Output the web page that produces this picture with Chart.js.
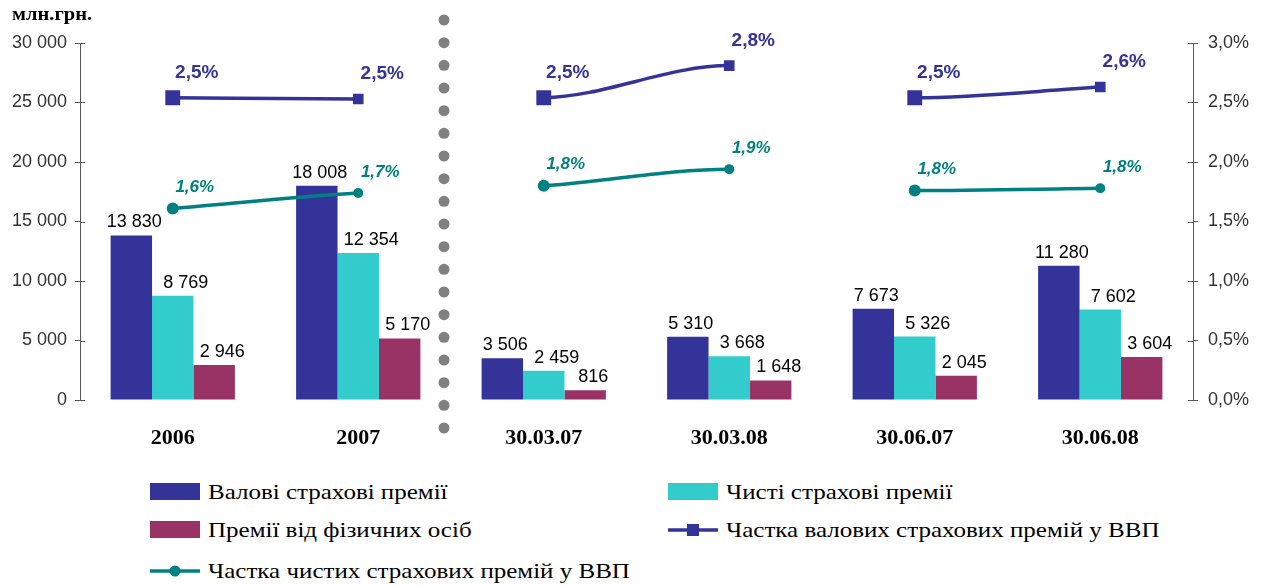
<!DOCTYPE html>
<html>
<head>
<meta charset="utf-8">
<script src="https://cdn.jsdelivr.net/npm/chart.js@4"></script>
<style>
  html, body { margin: 0; padding: 0; background: #fff; }
  #wrap { position: relative; width: 1268px; height: 585px; }
  #chart { position: absolute; left: 0; top: 0; }
  #unit { position: absolute; left: 12px; top: 4px; font: bold 18px "Liberation Serif", serif; color: #000; transform: scaleX(1.14); transform-origin: left center; }
  .leg { position: absolute; display: flex; align-items: center; font: 21px "Liberation Serif", serif; color: #000; white-space: nowrap; }
  .leg canvas { margin-right: 6px; }
  .leg span { display: inline-block; transform: scaleX(1.19); transform-origin: left center; }
</style>
</head>
<body>
<div id="wrap">
  <canvas id="chart" width="1268" height="460"></canvas>
  <div id="unit">млн.грн.</div>
  <div id="legend"></div>
</div>
<script>
const CATEGORIES = ["2006", "2007", "30.03.07", "30.03.08", "30.06.07", "30.06.08"];
const PERIOD_GROUP = [0, 0, 1, 1, 2, 2];
const GROSS_PREMIUMS = [13830, 18008, 3506, 5310, 7673, 11280];
const NET_PREMIUMS = [8769, 12354, 2459, 3668, 5326, 7602];
const PERSONAL_PREMIUMS = [2946, 5170, 816, 1648, 2045, 3604];
const GROSS_GDP_SHARE = [2.54, 2.53, 2.54, 2.81, 2.54, 2.63];
const NET_GDP_SHARE = [1.61, 1.74, 1.80, 1.94, 1.76, 1.78];
const LEFT_AXIS = { max: 30000, step: 5000 };
const RIGHT_AXIS = { max: 3, step: 0.5 };

const COLORS = { gross: "#333399", net: "#33CCCC", personal: "#993366", grossLine: "#333399", netLine: "#008080", axis: "#595959", tick: "#333333" };
const SANS = "'Liberation Sans', Arial, sans-serif";
const SERIF = "'Liberation Serif', 'Times New Roman', serif";

const fmtThousands = (v) => String(v).replace(/\B(?=(\d{3})+(?!\d))/g, " ");
const fmtPct = (v) => v.toFixed(1).replace(".", ",") + "%";

// hide the connecting segment between different reporting periods
const gapSegment = (ctx) => PERIOD_GROUP[ctx.p0DataIndex] !== PERIOD_GROUP[ctx.p1DataIndex] ? "transparent" : undefined;

const labelsPlugin = {
  id: "valueLabels",
  afterDatasetsDraw(chart) {
    const ctx = chart.ctx;
    ctx.save();
    ctx.textAlign = "center";
    ctx.textBaseline = "middle";
    chart.data.datasets.forEach((ds, i) => {
      const meta = chart.getDatasetMeta(i);
      meta.data.forEach((el, j) => {
        const v = ds.data[j];
        if (ds.type === "bar") {
          ctx.font = "18px " + SANS;
          ctx.fillStyle = "#000";
          ctx.fillText(fmtThousands(v), el.x + ds.labelDx, el.y - 13);
        } else {
          ctx.font = ds.labelFont;
          ctx.fillStyle = ds.borderColor;
          ctx.fillText(fmtPct(v), el.x + ds.labelDx, el.y + ds.labelDy);
        }
      });
    });
    ctx.restore();
  }
};

const decorPlugin = {
  id: "decor",
  afterDraw(chart) {
    const ctx = chart.ctx;
    const area = chart.chartArea;
    const x = chart.scales.x;
    ctx.save();
    // inner halves of the axis tick marks
    ctx.strokeStyle = COLORS.axis;
    ctx.lineWidth = 1;
    ["y", "y1"].forEach((id) => {
      const s = chart.scales[id];
      const ax = id === "y" ? area.left : area.right;
      const dir = id === "y" ? 1 : -1;
      s.ticks.forEach((t) => {
        const py = Math.round(s.getPixelForValue(t.value)) + 0.5;
        ctx.beginPath();
        ctx.moveTo(ax, py);
        ctx.lineTo(ax + dir * 5, py);
        ctx.stroke();
      });
    });
    // dotted separator between annual and quarterly data
    const sx = (x.getPixelForValue(1) + x.getPixelForValue(2)) / 2 - 7;
    ctx.fillStyle = "#808080";
    const top = area.top - 23, bottom = area.bottom + 28, n = 19;
    for (let k = 0; k < n; k++) {
      ctx.beginPath();
      ctx.arc(sx, top + (bottom - top) * k / (n - 1), 5.5, 0, Math.PI * 2);
      ctx.fill();
    }
    ctx.restore();
  }
};

const chart = new Chart(document.getElementById("chart"), {
  data: {
    labels: CATEGORIES,
    datasets: [
      { type: "bar", label: "Валові страхові премії", data: GROSS_PREMIUMS, backgroundColor: COLORS.gross, yAxisID: "y", order: 1, labelDx: 3 },
      { type: "bar", label: "Чисті страхові премії", data: NET_PREMIUMS, backgroundColor: COLORS.net, yAxisID: "y", order: 1, labelDx: 13 },
      { type: "bar", label: "Премії від фізичних осіб", data: PERSONAL_PREMIUMS, backgroundColor: COLORS.personal, yAxisID: "y", order: 1, labelDx: 8 },
      { type: "line", label: "Частка валових страхових премій у ВВП", data: GROSS_GDP_SHARE, borderColor: COLORS.grossLine,
        backgroundColor: COLORS.grossLine, borderWidth: 3.5, cubicInterpolationMode: "monotone", pointStyle: "rect",
        pointRadius: [10.5, 7.5, 10.5, 7.5, 10.5, 7.5], pointBorderWidth: 0, yAxisID: "y1", order: 0,
        segment: { borderColor: gapSegment }, labelDx: 24, labelDy: -25, labelFont: "bold 19px " + SANS },
      { type: "line", label: "Частка чистих страхових премій у ВВП", data: NET_GDP_SHARE, borderColor: COLORS.netLine,
        backgroundColor: COLORS.netLine, borderWidth: 3.5, cubicInterpolationMode: "monotone", pointStyle: "circle",
        pointRadius: [6, 5, 6, 5, 6, 5], pointBorderWidth: 0, yAxisID: "y1", order: 0,
        segment: { borderColor: gapSegment }, labelDx: 22, labelDy: -21, labelFont: "italic bold 17px " + SANS }
    ]
  },
  options: {
    responsive: false,
    animation: false,
    devicePixelRatio: 1,
    layout: { padding: { top: 43, left: 0, right: 0, bottom: 0 } },
    datasets: { bar: { categoryPercentage: 0.67, barPercentage: 1 } },
    plugins: { legend: { display: false }, tooltip: { enabled: false } },
    scales: {
      x: {
        grid: { display: false, drawTicks: false }, border: { display: false },
        ticks: { padding: 25, color: "#000", font: { family: SERIF, size: 22, weight: "bold" } },
        afterFit: (s) => { s.height = 60; }
      },
      y: {
        position: "left", min: 0, max: LEFT_AXIS.max,
        grid: { drawOnChartArea: false, tickLength: 5, color: COLORS.axis },
        border: { color: COLORS.axis },
        ticks: { stepSize: LEFT_AXIS.step, padding: 8, color: COLORS.tick, font: { family: SANS, size: 18 }, callback: (v) => fmtThousands(v) },
        afterFit: (s) => { s.width = 80; }
      },
      y1: {
        position: "right", min: 0, max: RIGHT_AXIS.max,
        grid: { drawOnChartArea: false, tickLength: 5, color: COLORS.axis },
        border: { color: COLORS.axis },
        ticks: { stepSize: RIGHT_AXIS.step, padding: 10, color: COLORS.tick, font: { family: SANS, size: 18 }, callback: (v) => fmtPct(v) },
        afterFit: (s) => { s.width = 75; }
      }
    }
  },
  plugins: [labelsPlugin, decorPlugin]
});

// legend in two columns, built from the datasets
const legendCols = [150, 668];
const legendRows = [492, 530, 571];
const legendBox = document.getElementById("legend");
chart.data.datasets.forEach((ds, i) => {
  const item = document.createElement("div");
  item.className = "leg";
  item.style.left = legendCols[i % 2] + "px";
  item.style.top = (legendRows[Math.floor(i / 2)] - 14) + "px";
  item.style.height = "28px";
  const sw = document.createElement("canvas");
  sw.width = 52; sw.height = 28;
  const c = sw.getContext("2d");
  if (ds.type === "bar") {
    c.fillStyle = ds.backgroundColor;
    c.fillRect(0, 5, 50, 17);
  } else {
    c.strokeStyle = ds.borderColor;
    c.lineWidth = 3.5;
    c.beginPath(); c.moveTo(0, 14); c.lineTo(50, 14); c.stroke();
    c.fillStyle = ds.borderColor;
    if (ds.pointStyle === "rect") c.fillRect(19, 8, 12, 12);
    else { c.beginPath(); c.arc(25, 14, 5.5, 0, Math.PI * 2); c.fill(); }
  }
  const text = document.createElement("span");
  text.textContent = ds.label;
  item.appendChild(sw);
  item.appendChild(text);
  legendBox.appendChild(item);
});
</script>
</body>
</html>
